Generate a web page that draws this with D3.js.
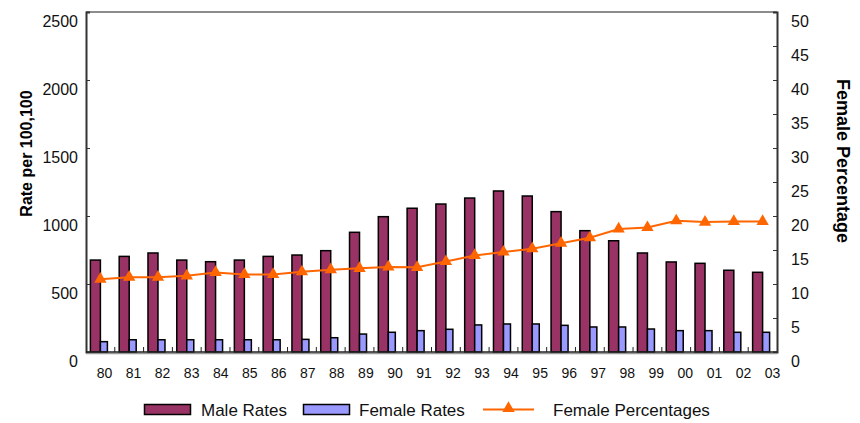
<!DOCTYPE html>
<html>
<head>
<meta charset="utf-8">
<script src="https://cdn.jsdelivr.net/npm/d3@7"></script>
<style>
  html, body { margin: 0; padding: 0; background: #fff; }
  svg { display: block; font-family: "Liberation Sans", Arial, sans-serif; }
</style>
</head>
<body>
<svg id="chart" width="860" height="423"></svg>
<script>
// Years (two-digit labels), 1980 through 2003
const years = ["80","81","82","83","84","85","86","87","88","89","90","91",
               "92","93","94","95","96","97","98","99","00","01","02","03"];

// Rates per 100,000
const maleRates = [676, 703, 728, 676, 664, 676, 703, 713, 745, 880, 995, 1057,
                   1088, 1132, 1184, 1147, 1032, 892, 818, 728, 662, 652, 601, 586];
const femaleRates = [76, 90, 90, 90, 90, 90, 90, 93, 105, 132, 145, 157,
                     167, 199, 206, 206, 196, 184, 184, 169, 157, 157, 145, 145];

// Female share of all cases, percent
const femalePct = [10.7, 11.0, 11.0, 11.2, 11.7, 11.4, 11.4, 11.8, 12.1, 12.3, 12.5, 12.45,
                   13.3, 14.2, 14.7, 15.2, 16.0, 16.8, 18.1, 18.3, 19.3, 19.1, 19.2, 19.2];

const leftTicks = [0, 500, 1000, 1500, 2000, 2500];
const rightTicks = [0, 5, 10, 15, 20, 25, 30, 35, 40, 45, 50];

const svg = d3.select("#chart");
const plot = { left: 86, right: 777, top: 12, bottom: 352 };
const FONT = "Liberation Sans, Arial, sans-serif";

const x = d3.scaleBand().domain(years).range([plot.left, plot.right]).padding(0);
// Year labels are spread slightly wider than the bar slots
const xLabel = d3.scalePoint().domain(years).range([104, 772]);
const yL = d3.scaleLinear().domain([0, 2500]).range([plot.bottom, plot.top]);
const yR = d3.scaleLinear().domain([0, 50]).range([plot.bottom, plot.top]);

const maleColor = "#993366", femaleColor = "#9999FF", pctColor = "#FF6600";

// Top border of the plot area
svg.append("line")
  .attr("x1", plot.left).attr("x2", plot.right)
  .attr("y1", plot.top).attr("y2", plot.top)
  .attr("stroke", "#8c8c8c").attr("stroke-width", 2);

// Bars
const center = d => x(d) + x.bandwidth() / 2;
svg.append("g").selectAll("rect")
  .data(years.map((y, i) => ({ y, v: maleRates[i] })))
  .join("rect")
  .attr("x", d => center(d.y) - 10)
  .attr("width", 10)
  .attr("y", d => yL(d.v))
  .attr("height", d => plot.bottom - yL(d.v))
  .attr("fill", maleColor).attr("stroke", "#000").attr("stroke-width", 1.5);

svg.append("g").selectAll("rect")
  .data(years.map((y, i) => ({ y, v: femaleRates[i] })))
  .join("rect")
  .attr("x", d => center(d.y))
  .attr("width", 7)
  .attr("y", d => yL(d.v))
  .attr("height", d => plot.bottom - yL(d.v))
  .attr("fill", femaleColor).attr("stroke", "#000").attr("stroke-width", 1.5);

// Left axis
const gL = svg.append("g").attr("transform", `translate(${plot.left},0)`)
  .call(d3.axisLeft(yL).tickValues(leftTicks).tickFormat(d3.format("d"))
    .tickSize(-4).tickPadding(8));
gL.select(".domain").attr("stroke", "#333").attr("stroke-width", 2);
gL.selectAll(".tick line").attr("stroke", "#333");
gL.selectAll(".tick text").attr("font-size", 16).attr("fill", "#111")
  .attr("font-family", FONT).attr("dy", "0.88em");

// Right axis
const gR = svg.append("g").attr("transform", `translate(${plot.right},0)`)
  .call(d3.axisRight(yR).tickValues(rightTicks).tickFormat(d3.format("d"))
    .tickSize(-4).tickPadding(14));
gR.select(".domain").attr("stroke", "#333").attr("stroke-width", 2);
gR.selectAll(".tick line").attr("stroke", "#333");
gR.selectAll(".tick text").attr("font-size", 16).attr("fill", "#111")
  .attr("font-family", FONT).attr("dy", "0.88em");

// Bottom axis line with a grey edge, tick marks between categories
svg.append("line")
  .attr("x1", plot.left).attr("x2", plot.right)
  .attr("y1", plot.bottom + 1.5).attr("y2", plot.bottom + 1.5)
  .attr("stroke", "#999").attr("stroke-width", 1.5);
svg.append("line")
  .attr("x1", plot.left).attr("x2", plot.right)
  .attr("y1", plot.bottom).attr("y2", plot.bottom)
  .attr("stroke", "#222").attr("stroke-width", 1.5);
svg.append("g").selectAll("line")
  .data(years.slice(1))
  .join("line")
  .attr("x1", d => x(d)).attr("x2", d => x(d))
  .attr("y1", plot.bottom).attr("y2", plot.bottom - 5)
  .attr("stroke", "#222");

// Year labels
const gB = svg.append("g").attr("transform", `translate(0,${plot.bottom})`)
  .call(d3.axisBottom(xLabel).tickSize(0).tickPadding(0));
gB.select(".domain").remove();
gB.selectAll(".tick text").attr("font-size", 14).attr("fill", "#111")
  .attr("font-family", FONT).attr("y", 26).attr("dy", 0);

// Female percentage line
const line = d3.line().x((d, i) => center(years[i])).y(d => yR(d));
svg.append("path").datum(femalePct)
  .attr("d", line).attr("fill", "none")
  .attr("stroke", pctColor).attr("stroke-width", 2);
const tri = d3.symbol().type(d3.symbolTriangle).size(66);
svg.append("g").selectAll("path")
  .data(femalePct)
  .join("path")
  .attr("d", tri)
  .attr("transform", (d, i) => `translate(${center(years[i])},${yR(d)})`)
  .attr("fill", pctColor);

// Axis titles
svg.append("text")
  .attr("transform", "translate(32,153.5) rotate(-90)")
  .attr("text-anchor", "middle")
  .attr("font-size", 16).attr("font-weight", "bold").attr("fill", "#000")
  .text("Rate per 100,100");
svg.append("text")
  .attr("transform", "translate(836.5,161) rotate(90)")
  .attr("text-anchor", "middle")
  .attr("font-size", 18).attr("font-weight", "bold").attr("fill", "#000")
  .text("Female Percentage");

// Legend
const legend = svg.append("g").attr("font-size", 17).attr("fill", "#111");
legend.append("rect").attr("x", 144.5).attr("y", 404.5).attr("width", 46).attr("height", 10)
  .attr("fill", maleColor).attr("stroke", "#000").attr("stroke-width", 1.5);
legend.append("text").attr("x", 201).attr("y", 415.5).text("Male Rates");
legend.append("rect").attr("x", 303.5).attr("y", 404.5).attr("width", 46).attr("height", 10)
  .attr("fill", femaleColor).attr("stroke", "#000").attr("stroke-width", 1.5);
legend.append("text").attr("x", 359).attr("y", 415.5).text("Female Rates");
legend.append("line").attr("x1", 483).attr("x2", 534).attr("y1", 409.5).attr("y2", 409.5)
  .attr("stroke", pctColor).attr("stroke-width", 2);
legend.append("path").attr("d", tri).attr("transform", "translate(508.5,408.5)").attr("fill", pctColor);
legend.append("text").attr("x", 553).attr("y", 415.5).text("Female Percentages");
</script>
</body>
</html>
